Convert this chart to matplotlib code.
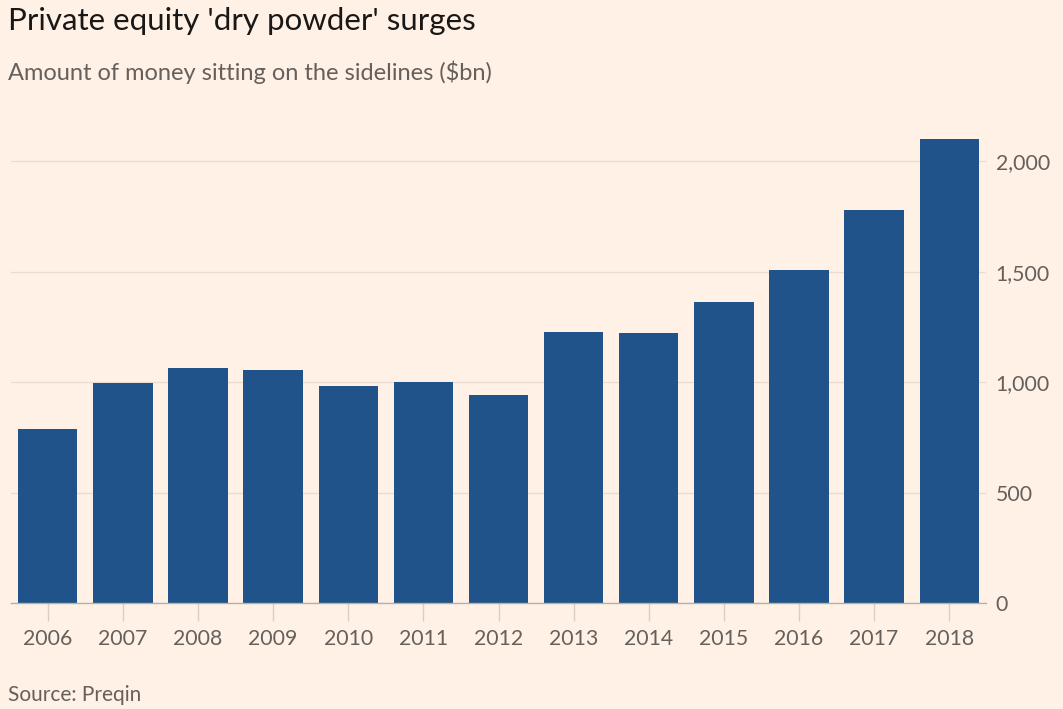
import matplotlib
matplotlib.use("Agg")
import matplotlib.pyplot as plt
from matplotlib.ticker import FuncFormatter

years = ["2006", "2007", "2008", "2009", "2010", "2011", "2012",
         "2013", "2014", "2015", "2016", "2017", "2018"]
dry_powder = [787, 997, 1063, 1054, 983, 1000, 942,
              1227, 1222, 1362, 1506, 1779, 2099]
y_ticks = [0, 500, 1000, 1500, 2000]

BG = "#FFF1E5"
BAR = "#1F5389"
TXT = "#66605C"
GRID = "#E9DDD2"
AXIS = "#B8AFA7"

plt.rcParams['font.family'] = ['Lato', 'DejaVu Sans']

fig = plt.figure(figsize=(10.63, 7.09), dpi=100, facecolor=BG)
ax = fig.add_axes([11/1063, 1 - 603/709, 975/1063, 475/709])
ax.set_facecolor(BG)

x = list(range(len(years)))
ax.bar(x, dry_powder, width=0.79, color=BAR, zorder=3)

ax.set_xlim(-0.49, len(years) - 0.51)
ax.set_ylim(0, 2150)
ax.set_xticks(x)
ax.set_xticklabels(years)
ax.set_yticks(y_ticks)
ax.yaxis.set_major_formatter(FuncFormatter(lambda v, p: f"{int(v):,}"))
ax.yaxis.tick_right()

ax.grid(axis='y', color=GRID, linewidth=1, zorder=0)
for s in ['top', 'left', 'right']:
    ax.spines[s].set_visible(False)
ax.spines['bottom'].set_color(AXIS)
ax.spines['bottom'].set_linewidth(1)
ax.spines['bottom'].set_zorder(4)

ax.tick_params(axis='x', length=13, color="#D9CEC4", width=1, pad=6,
               labelsize=15.3, labelcolor=TXT)
ax.tick_params(axis='y', length=0, pad=7, labelsize=15.3, labelcolor=TXT)

fig.text(8/1063, 1 - 21/709, "Private equity 'dry powder' surges",
         fontsize=22.5, color="#1A1817", ha='left', va='center')
fig.text(8/1063, 1 - 72/709, "Amount of money sitting on the sidelines ($bn)",
         fontsize=17, color=TXT, ha='left', va='center')
fig.text(8/1063, 1 - 695/709, "Source: Preqin",
         fontsize=15, color=TXT, ha='left', va='center')

fig.savefig("out.png", dpi=100, facecolor=BG)
